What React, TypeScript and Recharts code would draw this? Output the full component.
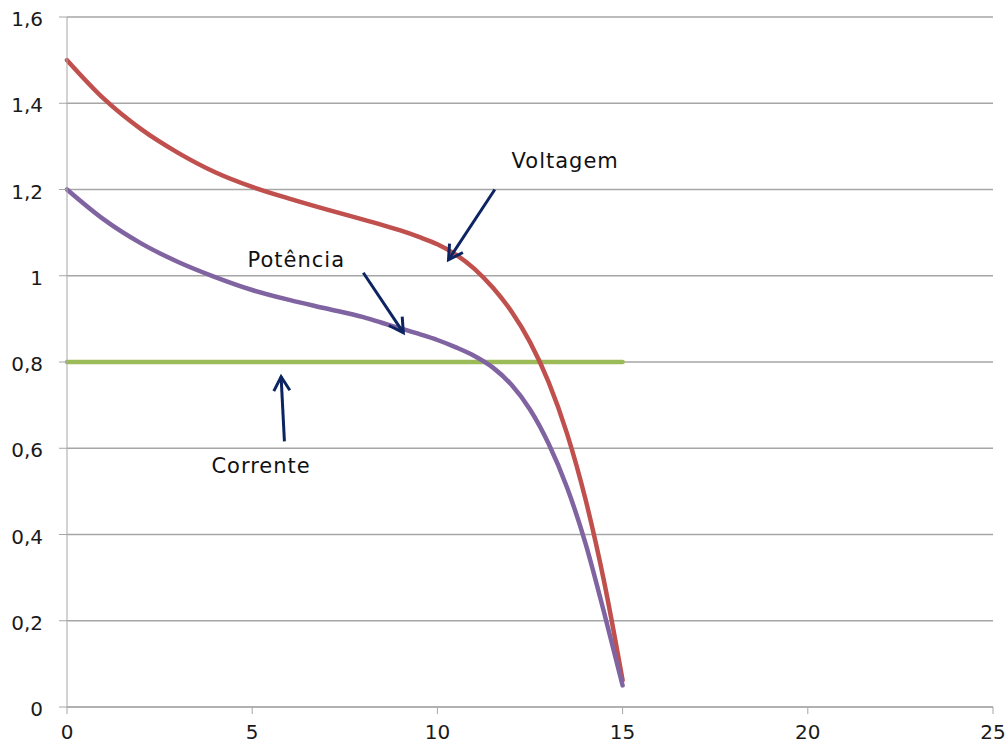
import React from 'react';
import { LineChart, Line, XAxis, YAxis, CartesianGrid, ReferenceLine, ReferenceDot } from 'recharts';

const xValues = [0, 1, 2, 3, 4, 5, 6, 7, 8, 8.5, 9, 9.5, 10, 10.5, 11, 11.5, 12, 12.5, 13, 13.5, 14, 14.5, 15];
const voltagem = [1.5, 1.41, 1.34, 1.285, 1.24, 1.206, 1.179, 1.154, 1.13, 1.118, 1.105, 1.09, 1.073, 1.049, 1.016, 0.972, 0.917, 0.846, 0.754, 0.634, 0.481, 0.291, 0.062];
const potencia = [1.2, 1.13, 1.075, 1.032, 0.997, 0.967, 0.944, 0.924, 0.904, 0.891, 0.878, 0.865, 0.851, 0.834, 0.814, 0.787, 0.747, 0.69, 0.611, 0.509, 0.379, 0.219, 0.05];
const corrente = [0.8, 0.8, 0.8, 0.8, 0.8, 0.8, 0.8, 0.8, 0.8, 0.8, 0.8, 0.8, 0.8, 0.8, 0.8, 0.8, 0.8, 0.8, 0.8, 0.8, 0.8, 0.8, 0.8];

const xTicks = [0, 5, 10, 15, 20, 25];
const yTicks = [0, 0.2, 0.4, 0.6, 0.8, 1, 1.2, 1.4, 1.6];

const labels = [
  { text: 'Voltagem', x: 13.45, y: 1.268 },
  { text: 'Potência', x: 6.19, y: 1.038 },
  { text: 'Corrente', x: 5.24, y: 0.56 },
];

const arrows = [
  { from: { x: 11.55, y: 1.2 }, to: { x: 10.3, y: 1.037 } },
  { from: { x: 8.0, y: 1.007 }, to: { x: 9.08, y: 0.868 } },
  { from: { x: 5.87, y: 0.616 }, to: { x: 5.78, y: 0.766 } },
];

const data = xValues.map((x, i) => ({ x, voltagem: voltagem[i], potencia: potencia[i], corrente: corrente[i] }));

const FONT = '"DejaVu Sans", sans-serif';
const ARROW = '#0c2461';

const ArrowShape = (props: any) => {
  const { x1, y1, x2, y2 } = props;
  if ([x1, y1, x2, y2].some((v) => v == null || isNaN(v))) return null;
  const dx = x2 - x1;
  const dy = y2 - y1;
  const len = Math.sqrt(dx * dx + dy * dy) || 1;
  const ux = dx / len;
  const uy = dy / len;
  const hl = 14;
  const hw = 8;
  const bx = x2 - ux * hl;
  const by = y2 - uy * hl;
  const px = -uy;
  const py = ux;
  return (
    <g>
      <line x1={x1} y1={y1} x2={x2} y2={y2} stroke={ARROW} strokeWidth={3} />
      <polyline
        points={`${bx + px * hw},${by + py * hw} ${x2},${y2} ${bx - px * hw},${by - py * hw}`}
        fill="none"
        stroke={ARROW}
        strokeWidth={3}
      />
    </g>
  );
};

export default function App() {
  return (
    <div style={{ position: 'absolute', left: 0, top: 0, background: '#fff' }}>
      <LineChart
        width={1006}
        height={745}
        data={data}
        margin={{ top: 17, right: 13, bottom: 0, left: 0 }}
      >
        <CartesianGrid horizontal={true} vertical={false} stroke="#a6a6a6" strokeWidth={1.3} />
        <XAxis
          dataKey="x"
          type="number"
          domain={[0, 25]}
          ticks={xTicks}
          height={38}
          stroke="#a6a6a6"
          tickSize={7}
          tickMargin={11}
          tick={{ fill: '#1a1a1a', fontSize: 20, fontFamily: FONT }}
        />
        <YAxis
          type="number"
          domain={[0, 1.6]}
          ticks={yTicks}
          width={67}
          stroke="#a6a6a6"
          tickSize={8}
          tickMargin={16}
          tickFormatter={(v: number) => String(v).replace('.', ',')}
          tick={{ fill: '#1a1a1a', fontSize: 20, fontFamily: FONT, dy: 2 }}
        />
        <Line dataKey="corrente" type="linear" stroke="#9bbb59" strokeWidth={4.5} dot={false} isAnimationActive={false} strokeLinecap="round" />
        <Line dataKey="voltagem" type="monotone" stroke="#c0504d" strokeWidth={4.5} dot={false} isAnimationActive={false} strokeLinecap="round" />
        <Line dataKey="potencia" type="monotone" stroke="#8064a2" strokeWidth={4.5} dot={false} isAnimationActive={false} strokeLinecap="round" />
        {arrows.map((a, i) => (
          <ReferenceLine
            key={`a${i}`}
            segment={[a.from, a.to]}
            shape={ArrowShape}
            ifOverflow="visible"
          />
        ))}
        {labels.map((l, i) => (
          <ReferenceDot
            key={`l${i}`}
            x={l.x}
            y={l.y}
            r={0}
            fill="none"
            stroke="none"
            ifOverflow="visible"
            label={{ value: l.text, position: 'center', fill: '#111', fontSize: 21, fontFamily: FONT, letterSpacing: 1 }}
          />
        ))}
      </LineChart>
    </div>
  );
}
